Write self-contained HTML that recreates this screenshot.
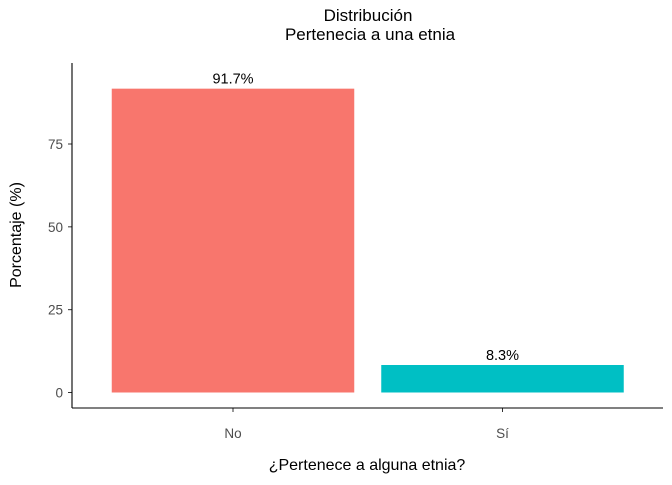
<!DOCTYPE html>
<html><head><meta charset="utf-8"><style>
body{margin:0;background:#fff;}
svg text{font-family:"Liberation Sans",sans-serif;}
</style></head><body>
<svg id="chart" width="672" height="480" xmlns="http://www.w3.org/2000/svg">
<rect width="672" height="480" fill="#fff"/>
<text x="368" y="21" font-size="17" text-anchor="middle">Distribución</text>
<text x="370" y="40" font-size="17" text-anchor="middle">Pertenecia a una etnia</text>
<g id="plot"></g>
<line x1="72" y1="63" x2="72" y2="408" stroke="#000" stroke-width="1.1"/>
<line x1="72" y1="408" x2="663" y2="408" stroke="#000" stroke-width="1.1"/>
<text x="367" y="470" font-size="16" text-anchor="middle">¿Pertenece a alguna etnia?</text>
<text transform="translate(21,235) rotate(-90)" font-size="16" text-anchor="middle">Porcentaje (%)</text>
</svg>
<script>
const categories = ["No", "Sí"];
const values = [91.7, 8.3];
const labels = ["91.7%", "8.3%"];
const colors = ["#F8766D", "#00BFC4"];
const yTicks = [0, 25, 50, 75];

const ns = "http://www.w3.org/2000/svg";
const g = document.getElementById("plot");
function y(v){ return 392.5 - v * (392.5 - 144) / 75; }
function x(i){ return 233 + i * 269.5; }
const bw = 242.5;
function mk(tag, attrs){ const e = document.createElementNS(ns, tag); for (const k in attrs) e.setAttribute(k, attrs[k]); g.appendChild(e); return e; }

yTicks.forEach(t => {
  const tk = mk("line", {x1: 68, x2: 72, y1: y(t), y2: y(t), stroke: "#333"});
  
  
  const tl = mk("text", {x: 63, y: y(t) + 5, "font-size": 13.5, "text-anchor": "end", fill: "#4d4d4d"});
  tl.textContent = t;
  
  
});

categories.forEach((c, i) => {
  const b = mk("rect", {x: x(i) - bw / 2, y: y(values[i]), width: bw, height: y(0) - y(values[i]), fill: colors[i]});
  
  
  const l = mk("text", {x: x(i), y: y(values[i]) - 5, "font-size": 14.5, "text-anchor": "middle"});
  l.textContent = labels[i];
  
  
  const tk = mk("line", {x1: x(i), x2: x(i), y1: 408, y2: 412, stroke: "#333"});
  
  
  const tl = mk("text", {x: x(i), y: 438, "font-size": 13.5, "text-anchor": "middle", fill: "#4d4d4d"});
  tl.textContent = c;
  
  
});
</script>
</body></html>
